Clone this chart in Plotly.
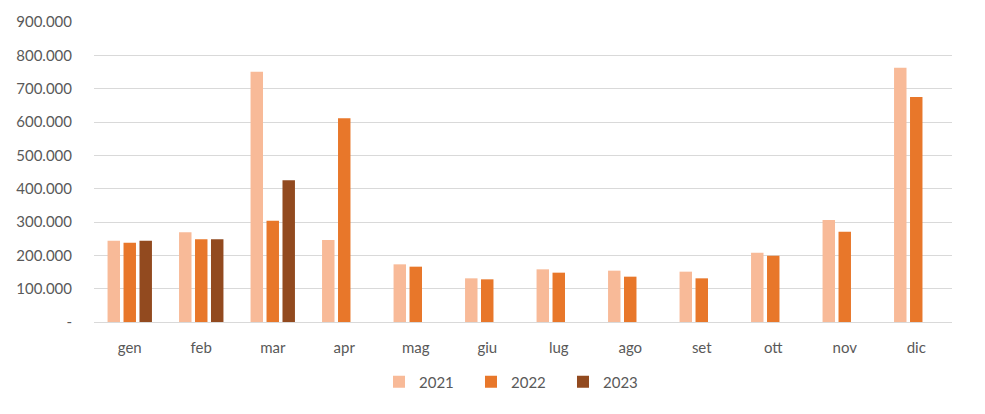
import plotly.graph_objects as go

months = ["gen", "feb", "mar", "apr", "mag", "giu", "lug", "ago", "set", "ott", "nov", "dic"]
v2021 = [244000, 269000, 751000, 246000, 173000, 131000, 158000, 154000, 151000, 208000, 306000, 763000]
v2022 = [238000, 248000, 304000, 611000, 166000, 128000, 148000, 136000, 131000, 199000, 271000, 675000]
v2023 = [244000, 248000, 425000, None, None, None, None, None, None, None, None, None]
ytick_vals = [0, 100000, 200000, 300000, 400000, 500000, 600000, 700000, 800000, 900000]
ytick_text = ["-", "100.000", "200.000", "300.000", "400.000", "500.000", "600.000", "700.000", "800.000", "900.000"]

colors = {"2021": "#F8BA98", "2022": "#E8772A", "2023": "#924A1F"}
font_family = "Lato, 'Open Sans', sans-serif"

fig = go.Figure()
for name, vals in [("2021", v2021), ("2022", v2022), ("2023", v2023)]:
    fig.add_trace(go.Bar(x=months, y=vals, name=name, marker_color=colors[name],
                         marker_line_width=0))

fig.update_layout(
    width=977, height=406,
    margin=dict(l=86, r=33, t=14, b=92),
    paper_bgcolor="white", plot_bgcolor="white",
    barmode="group", bargap=0.33, bargroupgap=0.22,
    font=dict(family=font_family, size=15, color="#595959"),
    showlegend=True,
    legend=dict(orientation="h", x=0.493, xanchor="center", y=-0.2, yanchor="middle",
                font=dict(size=15, color="#595959"), entrywidth=47, entrywidthmode="pixels"),
)
fig.update_yaxes(range=[0, 900000], tickvals=ytick_vals, ticktext=ytick_text,
                 showgrid=True, gridcolor="#D9D9D9", gridwidth=1, zeroline=False,
                 showline=False, ticks="", ticklabelstandoff=21, automargin=False)
fig.update_xaxes(showline=True, linecolor="#D9D9D9", linewidth=1, ticks="",
                 ticklabelstandoff=12, automargin=False)

fig.write_html("out.html")
